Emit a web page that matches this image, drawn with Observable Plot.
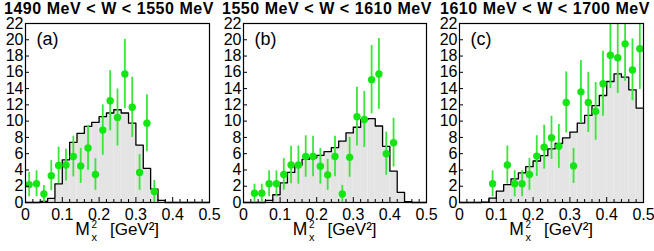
<!DOCTYPE html>
<html><head><meta charset="utf-8">
<script src="https://cdn.jsdelivr.net/npm/d3@7"></script>
<script src="https://cdn.jsdelivr.net/npm/@observablehq/plot@0.6"></script>
<style>
body{margin:0;background:#fff;}
#wrap{position:relative;width:654px;height:251px;overflow:hidden;background:#fff;}
.panel{position:absolute;top:0;}
.title{position:absolute;top:0;width:218px;text-align:center;font:bold 16px "Liberation Sans",Arial,Helvetica,sans-serif;letter-spacing:0.55px;line-height:18px;}
</style></head><body><div id="wrap"></div>
<script>
// ---- data ----
const titles = ["1490 MeV < W < 1550 MeV", "1550 MeV < W < 1610 MeV", "1610 MeV < W < 1700 MeV"];
const tags = ["(a)", "(b)", "(c)"];
const binLow = [0,0.02,0.04,0.06,0.08,0.10,0.12,0.14,0.16,0.18,0.20,0.22,0.24,0.26,0.28,0.30,0.32,0.34,0.36,0.38,0.40,0.42,0.44,0.46,0.48];
const binWidth = 0.02;
const histA = [0,0,0.15,0.5,2.3,5.25,7.4,8.5,9.35,9.85,10.55,11.0,11.4,11.0,9.75,7.05,4.2,1.65,0.25,0,0,0,0,0,0];
const histB = [0,0,0,0.25,0.95,2.4,3.7,4.6,5.3,5.5,5.8,6.25,6.75,7.55,8.55,9.25,10.2,10.3,9.4,6.9,3.85,1.25,0.1,0,0];
const histC = [0,0,0,0.05,0.55,1.4,2.2,2.9,3.65,4.4,5.1,5.75,6.6,7.25,7.95,8.65,9.75,10.7,11.9,13.15,14.87,15.8,15.4,13.85,11.6];

const ptXA = [0.01,0.03,0.05,0.07,0.09,0.11,0.13,0.15,0.17,0.19,0.21,0.23,0.25,0.27,0.29,0.31,0.33,0.35];
const ptYA = [2.2,2.3,1.05,3.3,4.55,4.6,5.65,4.5,6.7,3.45,8.9,12.5,10.45,15.8,11.7,3.7,9.75,1.35];
const ptEA = [1.5,1.6,1.05,1.85,2.25,1.95,2.5,2.15,2.75,1.95,3.1,3.7,3.5,4.25,3.7,2.2,3.5,1.35];

const ptXB = [0.03,0.05,0.07,0.09,0.11,0.13,0.15,0.17,0.19,0.21,0.23,0.25,0.27,0.29,0.31,0.33,0.35,0.37,0.39,0.41];
const ptYB = [1.15,1.15,2.3,2.3,3.45,4.6,4.6,5.65,5.65,4.45,3.4,5.65,1.05,5.55,10.55,10.2,15.1,15.8,6.0,7.35];
const ptEB = [1.1,1.1,1.6,1.6,1.95,2.3,2.35,2.55,2.5,2.2,1.9,2.5,1.05,2.45,3.6,3.45,4.2,4.35,2.65,3.0];

const ptXC = [0.09,0.13,0.15,0.17,0.19,0.21,0.23,0.25,0.27,0.29,0.31,0.33,0.35,0.37,0.39,0.41,0.43,0.45,0.47,0.49];
const ptYC = [2.3,4.6,2.3,2.3,3.45,5.7,6.8,7.95,6.9,12.3,4.5,13.6,12.3,11.2,14.6,18.1,17.8,19.5,16.3,18.9];
const ptEC = [1.6,2.35,1.6,1.6,1.95,2.5,2.7,2.65,2.7,3.75,2.15,3.85,3.7,3.55,4.0,4.1,4.4,4.6,3.8,5.0];

const xTicks = [0,0.1,0.2,0.3,0.4,0.5];
const xTickLabels = ["0","0.1","0.2","0.3","0.4","0.5"];
const xMinorTicks = [0.02,0.04,0.06,0.08,0.12,0.14,0.16,0.18,0.22,0.24,0.26,0.28,0.32,0.34,0.36,0.38,0.42,0.44,0.46,0.48];
const yTicks = [0,2,4,6,8,10,12,14,16,18,20,22];

// ---- layout ----
const layout = [
  {left: 0, ml: 25, mr: 9},
  {left: 218, ml: 25, mr: 10},
  {left: 436, ml: 23, mr: 11}
];
const W = 218, H = 251, MT = 23, MB = 49;
const FONT = '"Liberation Sans", Arial, Helvetica, sans-serif';
const data = [
  {hist: histA, x: ptXA, y: ptYA, e: ptEA},
  {hist: histB, x: ptXB, y: ptYB, e: ptEB},
  {hist: histC, x: ptXC, y: ptYC, e: ptEC}
];
const wrap = document.getElementById("wrap");

data.forEach((d, i) => {
  const L = layout[i];
  const fw = W - L.ml - L.mr, fh = H - MT - MB;
  const bins = d.hist.map((v, k) => ({x1: binLow[k], x2: binLow[k] + binWidth, y: v}));
  const outline = d.hist.map((v, k) => ({x: binLow[k], y: v}));
  outline.push({x: binLow[binLow.length - 1] + binWidth, y: d.hist[d.hist.length - 1]});
  const pts = d.x.map((x, k) => ({x, y: d.y[k], lo: d.y[k] - d.e[k], hi: d.y[k] + d.e[k]}));
  const svg = Plot.plot({
    width: W, height: H, marginLeft: L.ml, marginRight: L.mr, marginTop: MT, marginBottom: MB,
    x: {domain: [0, 0.5]},
    y: {domain: [0, 22]},
    style: {fontFamily: FONT, overflow: "visible", background: "transparent", color: "black"},
    marks: [
      Plot.rectY(bins, {x1: "x1", x2: "x2", y: "y", fill: "#e4e4e4"}),
      Plot.line(outline, {x: "x", y: "y", curve: "step-after", stroke: "black", strokeWidth: 1.3}),
      Plot.ruleX(pts, {x: "x", y1: "lo", y2: "hi", stroke: "#3ae63a", strokeWidth: 1.8, clip: true}),
      Plot.dot(pts, {x: "x", y: "y", r: 3.7, fill: "#14e614", stroke: null}),
      Plot.tickX(xMinorTicks, {x: v => v, insetTop: fh - 3, stroke: "black", strokeWidth: 1}),
      Plot.tickX(xTicks, {x: v => v, insetTop: fh - 5, stroke: "black", strokeWidth: 1}),
      Plot.tickY(yTicks, {y: v => v, insetRight: fw - 4, stroke: "black", strokeWidth: 1}),
      Plot.frame({stroke: "black", strokeWidth: 1.2}),
      Plot.axisX({ticks: xTicks, tickSize: 0, tickPadding: 6, fontSize: 16, label: null,
        tickFormat: v => xTickLabels[xTicks.indexOf(v)]}),
      Plot.axisY({ticks: yTicks, tickSize: 0, tickPadding: 2, fontSize: 16, label: null,
        tickFormat: v => String(v)}),
      Plot.text([tags[i]], {frameAnchor: "top-left", dx: 11, dy: 21, lineAnchor: "bottom", textAnchor: "start", fontSize: 18, fill: "black"}),
      Plot.text(["M"], {frameAnchor: "bottom", dx: -35, dy: 32, lineAnchor: "bottom", textAnchor: "middle", fontSize: 17.5, fill: "black"}),
      Plot.text(["2"], {frameAnchor: "bottom", dx: -26, dy: 25.5, lineAnchor: "bottom", textAnchor: "start", fontSize: 10, fill: "black"}),
      Plot.text(["x"], {frameAnchor: "bottom", dx: -26, dy: 38.5, lineAnchor: "bottom", textAnchor: "start", fontSize: 11, fill: "black"}),
      Plot.text(["[GeV\u00B2]"], {frameAnchor: "bottom", dx: 17, dy: 32, lineAnchor: "bottom", textAnchor: "middle", fontSize: 17, fill: "black"})
    ]
  });
  const div = document.createElement("div");
  div.className = "panel";
  div.style.left = L.left + "px";
  div.appendChild(svg);
  wrap.appendChild(div);
  const t = document.createElement("div");
  t.className = "title";
  t.style.left = L.left + "px";
  t.textContent = titles[i];
  wrap.appendChild(t);
});
</script></body></html>
